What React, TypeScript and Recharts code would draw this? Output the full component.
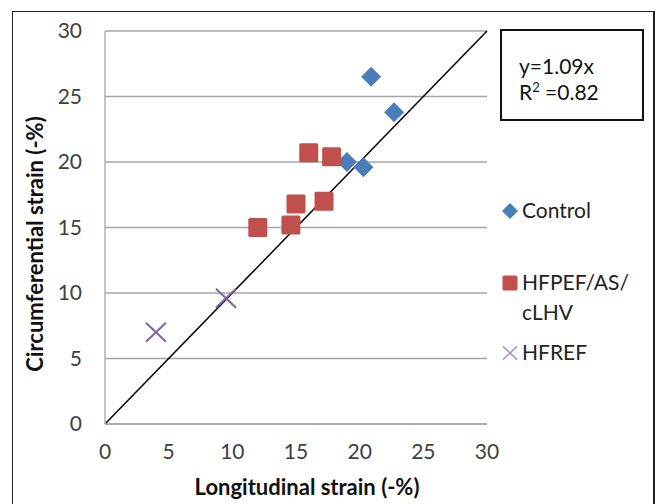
import { CartesianGrid, ReferenceLine, Scatter, ScatterChart, XAxis, YAxis } from "recharts"

const controlX = [20.9, 22.7, 19.0, 20.3]
const controlY = [26.5, 23.8, 20.0, 19.6]
const hfpefX = [16.0, 17.8, 15.0, 17.2, 12.0, 14.6]
const hfpefY = [20.7, 20.4, 16.8, 17.0, 15.0, 15.2]
const hfrefX = [4.0, 9.5]
const hfrefY = [7.0, 9.6]
const axisTicks = [0, 5, 10, 15, 20, 25, 30]
const fitStart = { x: 0, y: 0 }
const fitEnd = { x: 30, y: 30 }

const BLUE = "#4a7ebb"
const RED = "#c0504d"
const PURPLE = "#8064a2"
const FONT = "Lato, 'Open Sans', sans-serif"

const zip = (xs: number[], ys: number[]) => xs.map((x, i) => ({ x, y: ys[i] }))

const controlData = zip(controlX, controlY)
const hfpefData = zip(hfpefX, hfpefY)
const hfrefData = zip(hfrefX, hfrefY)

const Diamond = ({ cx, cy, r = 10, fill = BLUE }: any) => (
  <path d={`M${cx},${cy - r}L${cx + r},${cy}L${cx},${cy + r}L${cx - r},${cy}Z`} fill={fill} />
)

const Square = ({ cx, cy, s = 19, fill = RED }: any) => (
  <rect x={cx - s / 2} y={cy - s / 2} width={s} height={s} rx={1.5} fill={fill} />
)

const Cross = ({ cx, cy, r = 10, stroke = PURPLE, w = 2 }: any) => (
  <path
    d={`M${cx - r},${cy - r * 0.95}L${cx + r},${cy + r * 0.95}M${cx - r},${cy + r * 0.95}L${cx + r},${cy - r * 0.95}`}
    stroke={stroke}
    strokeWidth={w}
    fill="none"
  />
)

const legendItems = [
  { name: "Control", lines: ["Control"], icon: <Diamond cx={9} cy={9} r={8} />, top: 195 },
  { name: "HFPEF/AS/cLHV", lines: ["HFPEF/AS/", "cLHV"], icon: <Square cx={9} cy={9} s={15} />, top: 267 },
  { name: "HFREF", lines: ["HFREF"], icon: <Cross cx={9} cy={9} r={7} stroke="#a894c4" w={1.5} />, top: 337 },
]

export default function App() {
  return (
    <div style={{ position: "absolute", left: 0, top: 0, width: 660, height: 504, background: "#fff", overflow: "hidden" }}>
      <div
        style={{
          position: "absolute",
          left: 12,
          top: 11,
          width: 640,
          height: 520,
          borderLeft: "1.5px solid #222",
          borderTop: "1.5px solid #222",
          borderRight: "2px solid #222",
        }}
      />
      <div style={{ position: "absolute", left: 0, top: 0 }}>
        <ScatterChart width={660} height={504} margin={{ top: 31, right: 173, left: 0, bottom: 0 }}>
          <CartesianGrid vertical={false} stroke="#a6a6a6" strokeWidth={1.3} />
          <XAxis
            type="number"
            dataKey="x"
            domain={[0, 30]}
            ticks={axisTicks}
            height={80}
            axisLine={{ stroke: "#a6a6a6", strokeWidth: 1.3 }}
            tickLine={false}
            tickSize={0}
            tickMargin={20}
            tick={{ fontSize: 21, fill: "#404040", fontFamily: FONT }}
            label={{
              content: () => (
                <text x={307} y={495} textAnchor="middle" fontFamily={FONT} fontSize={22} fontWeight={700} fill="#111">
                  Longitudinal strain (-%)
                </text>
              ),
            }}
          />
          <YAxis
            type="number"
            dataKey="y"
            domain={[0, 30]}
            ticks={axisTicks}
            width={105}
            axisLine={{ stroke: "#a6a6a6", strokeWidth: 1.3 }}
            tickLine={false}
            tickSize={0}
            tickMargin={23}
            tick={{ fontSize: 21, fill: "#404040", fontFamily: FONT }}
            label={{
              content: () => (
                <text
                  x={34}
                  y={244}
                  transform="rotate(-90 34 244)"
                  textAnchor="middle"
                  dominantBaseline="central"
                  fontFamily={FONT}
                  fontSize={22}
                  fontWeight={700}
                  fill="#111"
                >
                  Circumferential strain (-%)
                </text>
              ),
            }}
          />
          <Scatter name="Control" data={controlData} shape={(p: any) => <Diamond cx={p.cx} cy={p.cy} />} isAnimationActive={false} />
          <Scatter name="HFPEF/AS/cLHV" data={hfpefData} shape={(p: any) => <Square cx={p.cx} cy={p.cy} />} isAnimationActive={false} />
          <Scatter name="HFREF" data={hfrefData} shape={(p: any) => <Cross cx={p.cx} cy={p.cy} />} isAnimationActive={false} />
          <ReferenceLine segment={[fitStart, fitEnd]} stroke="#000" strokeWidth={1.5} />
        </ScatterChart>
      </div>
      <div
        style={{
          position: "absolute",
          left: 500,
          top: 29,
          width: 140,
          height: 88,
          border: "2px solid #111",
          fontFamily: FONT,
          fontSize: 21,
          color: "#111",
          lineHeight: "24px",
          boxSizing: "content-box",
        }}
      >
        <div style={{ position: "absolute", left: 17, top: 23, whiteSpace: "nowrap" }}>y=1.09x</div>
        <div style={{ position: "absolute", left: 17, top: 49, whiteSpace: "nowrap" }}>
          R<sup style={{ fontSize: 13, verticalAlign: "top", lineHeight: "14px" }}>2</sup> =0.82
        </div>
      </div>
      {legendItems.map((it) => (
        <div key={it.name} style={{ position: "absolute", left: 501, top: it.top, fontFamily: FONT, fontSize: 21, color: "#222", lineHeight: "30px", whiteSpace: "nowrap" }}>
          <svg width={18} height={18} style={{ position: "absolute", left: 0, top: 7 }}>
            {it.icon}
          </svg>
          <div style={{ marginLeft: 21 }}>
            {it.lines.map((l) => (
              <div key={l}>{l}</div>
            ))}
          </div>
        </div>
      ))}
    </div>
  )
}
